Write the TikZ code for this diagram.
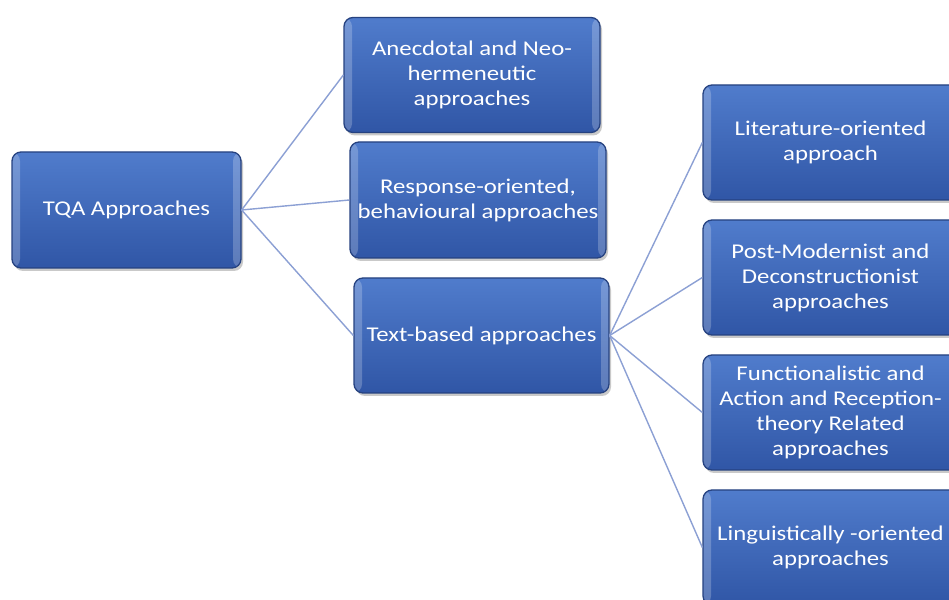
\documentclass[tikz,border=0pt]{standalone}
\usepackage{fontspec}
\setmainfont{Carlito}[FakeStretch=1.18]
\usetikzlibrary{shadows}
\definecolor{boxtop}{RGB}{80,124,204}
\definecolor{boxbot}{RGB}{48,86,166}
\definecolor{boxedge}{RGB}{38,66,128}
\definecolor{linkcol}{RGB}{140,160,212}
\tikzset{
  tqabox/.style={rectangle, rounded corners=9pt, draw=boxedge, line width=1.3pt,
    top color=boxtop, bottom color=boxbot, text=white, align=center,
    font=\fontsize{21}{25}\selectfont, inner sep=2pt,
    drop shadow={shadow xshift=2pt, shadow yshift=-3pt, opacity=0.35, fill=black!60},
    path picture={
      \fill[white,opacity=0.22] (path picture bounding box.south west) rectangle ([xshift=8pt]path picture bounding box.north west);
      \fill[white,opacity=0.22] ([xshift=-8pt]path picture bounding box.south east) rectangle (path picture bounding box.north east);
    }},
  link/.style={draw=linkcol, line width=1.4pt}
}
\begin{document}
\begin{tikzpicture}[x=1pt,y=1pt]
\clip (0,0) rectangle (949,599);
\fill[white] (0,0) rectangle (949,599);
\node[tqabox, minimum width=229pt, minimum height=116pt] (tqa) at (126.5,389) {TQA Approaches};
\node[tqabox, minimum width=256pt, minimum height=115pt] (anec) at (472,524) {Anecdotal and Neo-\\hermeneutic\\approaches};
\node[tqabox, minimum width=256pt, minimum height=116pt] (resp) at (478,399) {Response-oriented,\\behavioural approaches};
\node[tqabox, minimum width=255pt, minimum height=115pt] (text) at (481.5,263.5) {Text-based approaches};
\node[tqabox, minimum width=255pt, minimum height=115pt] (lit) at (830.5,456.5) {Literature-oriented\\approach};
\node[tqabox, minimum width=255pt, minimum height=115pt] (post) at (830.5,321.5) {Post-Modernist and\\Deconstructionist\\approaches};
\node[tqabox, minimum width=255pt, minimum height=115pt] (func) at (830.5,186.5) {Functionalistic and\\Action and Reception-\\theory Related\\approaches};
\node[tqabox, minimum width=255pt, minimum height=115pt] (ling) at (830.5,51.5) {Linguistically -oriented\\approaches};
\draw[link] (tqa.east) -- (anec.west);
\draw[link] (tqa.east) -- (resp.west);
\draw[link] (tqa.east) -- (text.west);
\draw[link] (text.east) -- (lit.west);
\draw[link] (text.east) -- (post.west);
\draw[link] (text.east) -- (func.west);
\draw[link] (text.east) -- (ling.west);
\end{tikzpicture}
\end{document}
